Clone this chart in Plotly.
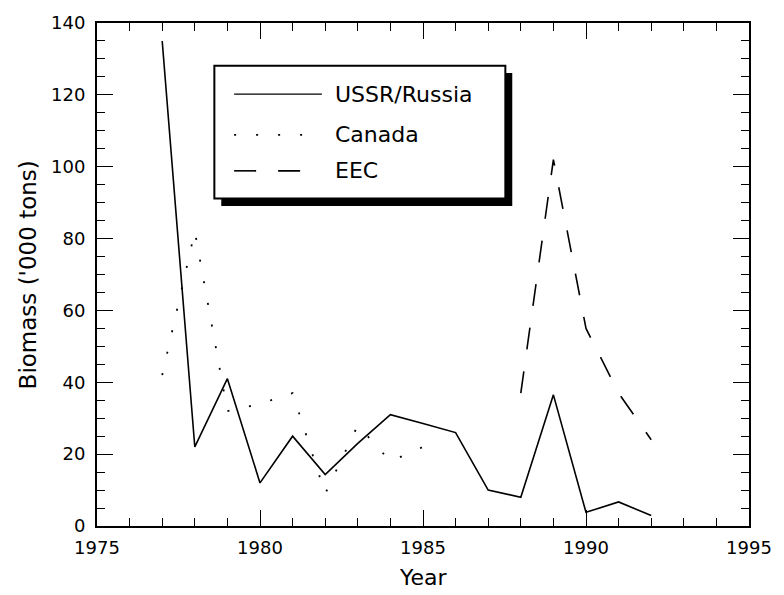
import plotly.graph_objects as go

# Annual biomass by fishing nation ('000 tons)
years_ussr = [1977, 1978, 1979, 1980, 1981, 1982, 1983, 1984, 1985, 1986, 1987, 1988, 1989, 1990, 1991, 1992]
ussr = [135, 22, 41, 12, 25, 14.3, 23, 31, 28.5, 26, 10, 8, 36.5, 3.8, 6.7, 2.9]

years_canada = [1977, 1978, 1979, 1980, 1981, 1982, 1983, 1984, 1985]
canada = [42, 82, 32, 34, 37, 9, 28, 18, 22]

years_eec = [1988, 1989, 1990, 1991, 1992]
eec = [37, 102, 55, 37, 24]

series_names = ["USSR/Russia", "Canada", "EEC"]

FONT = "DejaVu Sans, Liberation Sans, sans-serif"
dash_canada = "2px,20px"
dash_eec = "22px,22px"

fig = go.Figure()
fig.add_trace(go.Scatter(x=years_ussr, y=ussr, mode="lines", name=series_names[0],
                         line=dict(color="black", width=1.6), showlegend=False))
fig.add_trace(go.Scatter(x=years_canada, y=canada, mode="lines", name=series_names[1],
                         line=dict(color="black", width=1.8, dash=dash_canada), showlegend=False))
fig.add_trace(go.Scatter(x=years_eec, y=eec, mode="lines", name=series_names[2],
                         line=dict(color="black", width=1.6, dash=dash_eec), showlegend=False))

axis_common = dict(
    showgrid=False, zeroline=False, showline=True, linecolor="black", linewidth=2,
    mirror="ticks", ticks="inside", ticklen=16, tickwidth=1.3, tickcolor="black",
    tickfont=dict(family=FONT, size=18, color="black"),
)

fig.update_xaxes(range=[1975, 1995], dtick=5, tick0=1975,
                 minor=dict(ticks="inside", ticklen=8, dtick=1, tickwidth=1.3, tickcolor="black"),
                 ticklabelstandoff=4, **axis_common)
fig.update_yaxes(range=[0, 140], dtick=20, tick0=0,
                 minor=dict(ticks="inside", ticklen=8, dtick=5, tickwidth=1.3, tickcolor="black"),
                 ticklabelstandoff=6, **axis_common)

# Hand-drawn legend box with a drop shadow
bx0, bx1, by0, by1 = 0.180, 0.6263, 0.6509, 0.9152
shadow_dx, shadow_dy = 0.0106, 0.0148
shapes = [
    dict(type="rect", xref="paper", yref="paper",
         x0=bx0 + shadow_dx, x1=bx1 + shadow_dx, y0=by0 - shadow_dy, y1=by1 - shadow_dy,
         fillcolor="black", line=dict(color="black", width=0)),
    dict(type="rect", xref="paper", yref="paper", x0=bx0, x1=bx1, y0=by0, y1=by1,
         fillcolor="white", line=dict(color="black", width=2)),
]
row_y = [0.8586, 0.7777, 0.7061]
row_dash = ["solid", dash_canada, dash_eec]
row_width = [1.3, 1.8, 1.6]
sx0, sx1, tx = 0.2103, 0.3449, 0.3616
annotations = []
for name, yy, dsh, w in zip(series_names, row_y, row_dash, row_width):
    shapes.append(dict(type="line", xref="paper", yref="paper", x0=sx0, x1=sx1, y0=yy, y1=yy,
                       line=dict(color="black", width=w, dash=dsh)))
    annotations.append(dict(xref="paper", yref="paper", x=tx, y=yy, text=name, showarrow=False,
                            xanchor="left", yanchor="middle",
                            font=dict(family=FONT, size=22, color="black")))

# Axis titles
annotations.append(dict(xref="paper", yref="paper", x=0.5, y=-0.1026, text="Year",
                        showarrow=False, xanchor="center", yanchor="middle",
                        font=dict(family=FONT, size=22, color="black")))
annotations.append(dict(xref="paper", yref="paper", x=-0.106, y=0.5, text="Biomass ('000 tons)",
                        showarrow=False, xanchor="center", yanchor="middle", textangle=-90,
                        font=dict(family=FONT, size=23, color="black")))

fig.update_layout(
    width=784, height=595,
    margin=dict(l=97, r=26, t=19, b=69),
    plot_bgcolor="white", paper_bgcolor="white",
    shapes=shapes, annotations=annotations,
    showlegend=False,
)

fig.write_html("out.html")
